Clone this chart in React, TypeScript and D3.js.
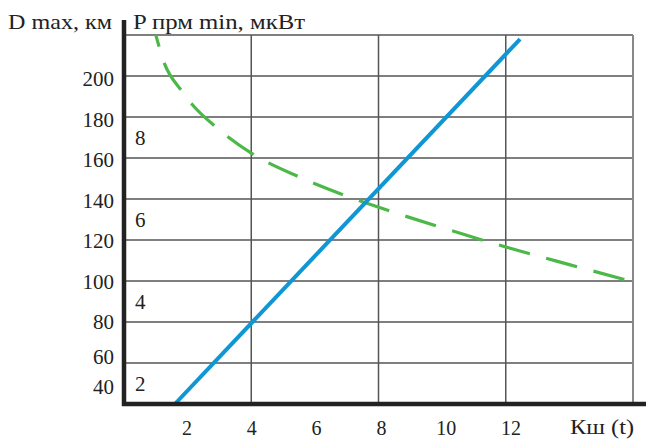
import React from "react";
import * as d3 from "d3";

const xTicks = [2, 4, 6, 8, 10, 12];
const xGrid = [4, 8, 12, 16];
const dTicks = [40, 60, 80, 100, 120, 140, 160, 180, 200];
const dGrid = [40, 60, 80, 100, 120, 140, 160, 180, 200, 220];
const pTicks = [2, 4, 6, 8];

const blueT = [1.6, 12.45];
const blueD = [40, 218];

const greenT = [1.0, 1.25, 1.8, 2.15, 2.9, 4, 5.5, 7, 8.5, 10, 12, 14, 16];
const greenP = [10.5, 9.85, 9.15, 8.8, 8.25, 7.62, 7.04, 6.57, 6.17, 5.8, 5.33, 4.9, 4.48];

const W = 646, H = 439;
const L = 124, R = 633, T = 35, B = 404;

export default function App() {
  const x = d3.scaleLinear().domain([0, 16]).range([L, R]);
  const xLabel = d3.scaleLinear().domain([2, 12]).range([187, 511]);
  const yD = d3.scaleLinear().domain([40, 220]).range([B, T]);
  const yDLabel = d3.scaleLinear().domain([40, 60, 80, 200]).range([387, 357, 322, 79]);
  const yP = d3.scaleLinear().domain([1.5, 10.5]).range([B, T]);

  const blueLine = d3.line<number>().x((_, i) => x(blueT[i])).y((d) => yD(d));
  const greenLine = d3
    .line<number>()
    .x((_, i) => x(greenT[i]))
    .y((d) => yP(d))
    .curve(d3.curveMonotoneX);

  const font = "Liberation Serif, DejaVu Serif, Times New Roman, serif";
  const grid = "#555";
  const ts: React.CSSProperties = { fontFamily: font, fontSize: 21 };

  return (
    <svg width={W} height={H} style={{ position: "absolute", left: 0, top: 0, background: "#fff" }}>
      <rect width={W} height={H} fill="#fff" />
      {dGrid.map((d) => (
        <line key={"h" + d} x1={L} x2={R} y1={yD(d)} y2={yD(d)} stroke={grid} strokeWidth={1.5} />
      ))}
      {xGrid.map((t) => (
        <line key={"v" + t} x1={x(t)} x2={x(t)} y1={T} y2={B} stroke={t === 16 ? "#888" : grid} strokeWidth={t === 16 ? 2 : 1.5} />
      ))}
      <path d={greenLine(greenP) || ""} fill="none" stroke="#4cb848" strokeWidth={3.2} strokeDasharray="32 17" strokeDashoffset={20} />
      <path d={blueLine(blueD) || ""} fill="none" stroke="#0f96d4" strokeWidth={4} />
      <line x1={L} x2={L} y1={20} y2={B + 2} stroke="#222" strokeWidth={4.5} />
      <line x1={L - 2} x2={W} y1={B} y2={B} stroke="#222" strokeWidth={4.5} />
      {dTicks.map((d) => (
        <text key={"dl" + d} x={114} y={yDLabel(d)} textAnchor="end" dominantBaseline="central" style={ts} fill="#222">
          {d}
        </text>
      ))}
      {pTicks.map((p) => (
        <text key={"pl" + p} x={135} y={yP(p)} dominantBaseline="central" style={ts} fill="#222">
          {p}
        </text>
      ))}
      {xTicks.map((t) => (
        <text key={"xl" + t} x={xLabel(t)} y={428} textAnchor="middle" dominantBaseline="central" style={{ ...ts, fontSize: 20 }} fill="#222">
          {t}
        </text>
      ))}
      <text x={570} y={427} dominantBaseline="central" style={{ ...ts, fontSize: 20 }} textLength={64} lengthAdjust="spacingAndGlyphs" fill="#222">Кш (t)</text>
      <text x={8} y={21} dominantBaseline="central" style={{ ...ts, fontSize: 22 }} textLength={104} lengthAdjust="spacingAndGlyphs" fill="#222">D max, км</text>
      <text x={133} y={21} dominantBaseline="central" style={{ ...ts, fontSize: 22 }} textLength={172} lengthAdjust="spacingAndGlyphs" fill="#222">P прм min, мкВт</text>
    </svg>
  );
}
